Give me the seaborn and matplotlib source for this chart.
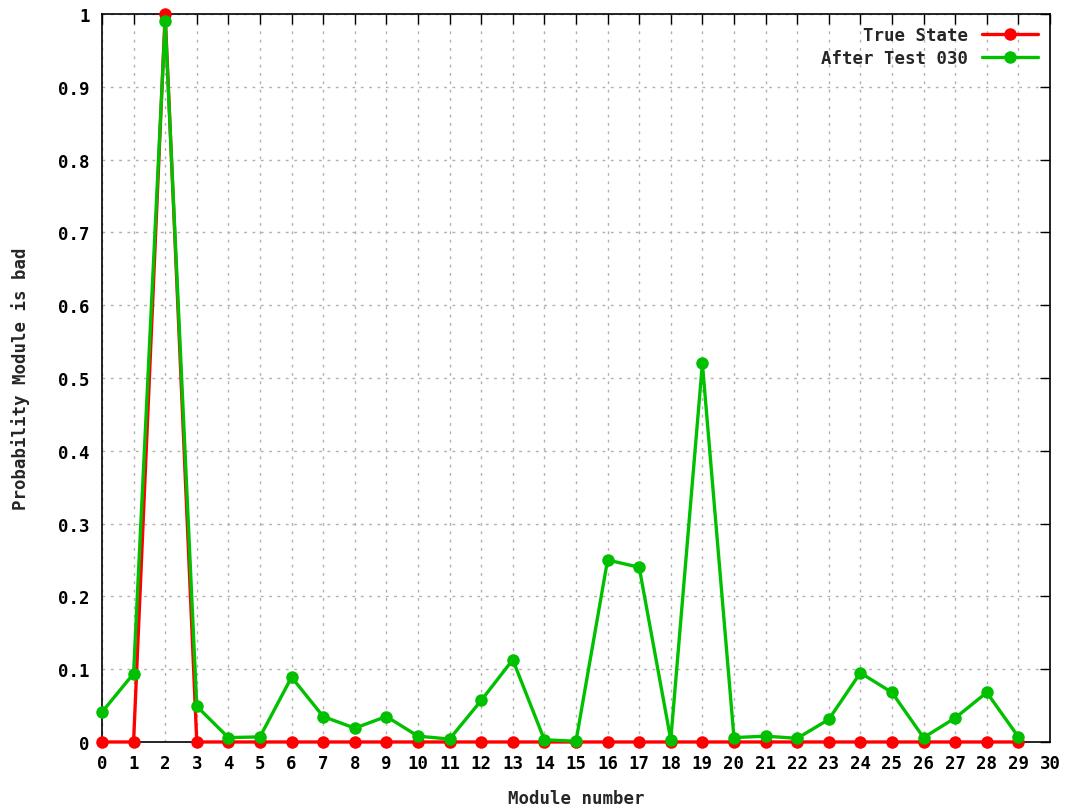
import numpy as np
import pandas as pd
import matplotlib
matplotlib.use("Agg")
import matplotlib.pyplot as plt
import seaborn as sns
from matplotlib.ticker import FuncFormatter, MultipleLocator

# Data
modules = list(range(30))
true_state = [0, 0, 1, 0, 0, 0, 0, 0, 0, 0,
              0, 0, 0, 0, 0, 0, 0, 0, 0, 0,
              0, 0, 0, 0, 0, 0, 0, 0, 0, 0]
after_test = [0.041, 0.094, 0.99, 0.049, 0.006, 0.007, 0.089, 0.035, 0.019, 0.035,
              0.008, 0.004, 0.057, 0.113, 0.003, 0.001, 0.25, 0.24, 0.003, 0.52,
              0.006, 0.008, 0.005, 0.031, 0.095, 0.068, 0.006, 0.033, 0.068, 0.007]

sns.set_style("white")
plt.rcParams['font.family'] = ['DejaVu Sans Mono']
plt.rcParams['font.weight'] = 'bold'

fig = plt.figure(figsize=(10.78, 8.12), dpi=100)
ax = fig.add_axes([0.0946, 0.085, 0.8794, 0.8965])

sns.lineplot(x=modules, y=true_state, ax=ax, color="#ff0000", linewidth=2.4,
             marker="o", markersize=9, markeredgewidth=0, label="True State")
sns.lineplot(x=modules, y=after_test, ax=ax, color="#00c000", linewidth=2.4,
             marker="o", markersize=9, markeredgewidth=0, label="After Test 030")
for ln in ax.lines:
    ln.set_clip_on(False)
    ln.set_zorder(3)

ax.set_xlim(0, 30)
ax.set_ylim(0, 1)
ax.xaxis.set_major_locator(MultipleLocator(1))
ax.yaxis.set_major_locator(MultipleLocator(0.1))
ax.yaxis.set_major_formatter(FuncFormatter(lambda v, p: "%g" % round(v, 1)))
ax.grid(True, color="#b0b0b0", linestyle=(0, (2, 4)), linewidth=1)
ax.tick_params(direction="in", length=7, width=1, top=True, right=True,
               labelsize=12.5, pad=9, colors="black")
for sp in ax.spines.values():
    sp.set_color("black")
    sp.set_linewidth(1.2)
    sp.set_zorder(2.5)

ax.set_xlabel("Module number", fontsize=12.5, fontweight="bold", labelpad=12)
ax.set_ylabel("Probability Module is bad", fontsize=12.5, fontweight="bold", labelpad=20)

leg = ax.legend(loc="upper right", frameon=False, markerfirst=False, fontsize=12.5,
                handlelength=3.2, borderaxespad=0.3, labelspacing=0.3)
for t in leg.get_texts():
    t.set_fontweight("bold")

fig.savefig("out.png", dpi=100)
